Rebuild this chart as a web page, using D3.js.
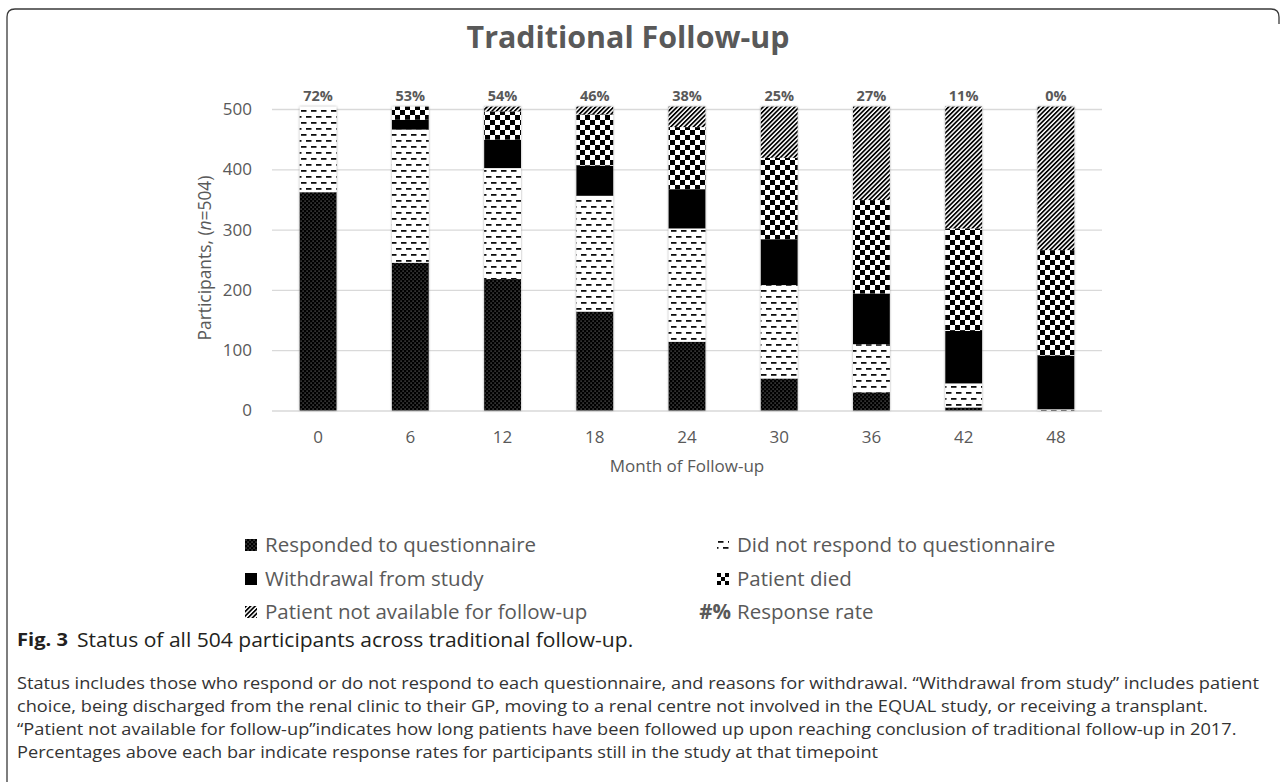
<!DOCTYPE html>
<html>
<head>
<meta charset="utf-8">
<script src="https://cdn.jsdelivr.net/npm/d3@7/dist/d3.min.js"></script>
<style>
  html, body { margin: 0; padding: 0; background: #ffffff; }
  svg { display: block; }
</style>
</head>
<body>
<svg id="chart" width="1284" height="782"></svg>
<script>
// ---------------- DATA ----------------
const months = ["0", "6", "12", "18", "24", "30", "36", "42", "48"];
const responded    = [362, 245, 218, 164, 114, 53, 30, 5, 0];
const notResponded = [142, 221, 184, 192, 188, 155, 80, 40, 2];
const withdrawal   = [0, 16, 47, 50, 65, 76, 84, 87, 89];
const died         = [0, 22, 47, 85, 103, 135, 155, 170, 175];
const notAvailable = [0, 0, 8, 13, 34, 85, 155, 202, 238];
const responseRates = ["72%", "53%", "54%", "46%", "38%", "25%", "27%", "11%", "0%"];
const yTicks = [0, 100, 200, 300, 400, 500];
const seriesKeys = ["responded", "notResponded", "withdrawal", "died", "notAvailable"];
const seriesLabels = ["Responded to questionnaire", "Did not respond to questionnaire",
  "Withdrawal from study", "Patient died", "Patient not available for follow-up"];
const chartTitle = "Traditional Follow-up";
const xTitle = "Month of Follow-up";
const captionHead = "Status of all 504 participants across traditional follow-up.";
const captionLines = [
  "Status includes those who respond or do not respond to each questionnaire, and reasons for withdrawal. \u201cWithdrawal from study\u201d includes patient",
  "choice, being discharged from the renal clinic to their GP, moving to a renal centre not involved in the EQUAL study, or receiving a transplant.",
  "\u201cPatient not available for follow-up\u201dindicates how long patients have been followed up upon reaching conclusion of traditional follow-up in 2017.",
  "Percentages above each bar indicate response rates for participants still in the study at that timepoint"
];

const table = months.map((m, i) => ({
  month: m,
  responded: responded[i],
  notResponded: notResponded[i],
  withdrawal: withdrawal[i],
  died: died[i],
  notAvailable: notAvailable[i],
  rate: responseRates[i]
}));

// ---------------- SETUP ----------------
const svg = d3.select("#chart");
const FONT = "'Open Sans', 'DejaVu Sans', sans-serif";
const GREY = "#595959";

function fit(sel, target) {
  const w = sel.node().getComputedTextLength();
  const fs = parseFloat(sel.attr("font-size"));
  if (w > 0) sel.attr("font-size", (fs * target / w).toFixed(2));
}

// patterns
const defs = svg.append("defs");
const pR = defs.append("pattern").attr("id", "pat-responded").attr("patternUnits", "userSpaceOnUse")
  .attr("width", 4).attr("height", 4);
pR.append("rect").attr("width", 4).attr("height", 4).attr("fill", "#000");
pR.append("rect").attr("x", 0.6).attr("y", 0.6).attr("width", 0.9).attr("height", 0.9).attr("fill", "#c4c4c4");
pR.append("rect").attr("x", 2.6).attr("y", 2.6).attr("width", 0.9).attr("height", 0.9).attr("fill", "#c4c4c4");

const pN = defs.append("pattern").attr("id", "pat-notresp").attr("patternUnits", "userSpaceOnUse")
  .attr("width", 10).attr("height", 12);
pN.append("rect").attr("width", 10).attr("height", 12).attr("fill", "#fff");
pN.append("rect").attr("x", 1).attr("y", 2).attr("width", 5.5).attr("height", 1.8).attr("fill", "#111");
pN.append("rect").attr("x", 6).attr("y", 8).attr("width", 5.5).attr("height", 1.8).attr("fill", "#111");
pN.append("rect").attr("x", -4).attr("y", 8).attr("width", 5.5).attr("height", 1.8).attr("fill", "#111");

function checker(id, cell) {
  const p = defs.append("pattern").attr("id", id).attr("patternUnits", "userSpaceOnUse")
    .attr("width", cell * 2).attr("height", cell * 2);
  p.append("rect").attr("width", cell * 2).attr("height", cell * 2).attr("fill", "#fff");
  p.append("rect").attr("x", 0).attr("y", 0).attr("width", cell).attr("height", cell).attr("fill", "#000");
  p.append("rect").attr("x", cell).attr("y", cell).attr("width", cell).attr("height", cell).attr("fill", "#000");
}
checker("pat-died", 5);
checker("pat-died-lg", 4);

const pA = defs.append("pattern").attr("id", "pat-na").attr("patternUnits", "userSpaceOnUse")
  .attr("width", 3.2).attr("height", 10).attr("patternTransform", "rotate(45)");
pA.append("rect").attr("width", 3.2).attr("height", 10).attr("fill", "#fff");
pA.append("rect").attr("width", 1.7).attr("height", 10).attr("fill", "#000");

const fills = {
  responded: "url(#pat-responded)",
  notResponded: "url(#pat-notresp)",
  withdrawal: "#000",
  died: "url(#pat-died)",
  notAvailable: "url(#pat-na)"
};
const legendFills = Object.assign({}, fills, { died: "url(#pat-died-lg)" });

const shadow = defs.append("filter").attr("id", "shadow").attr("x", "-20%").attr("y", "-5%")
  .attr("width", "140%").attr("height", "110%");
shadow.append("feDropShadow").attr("dx", 0).attr("dy", 0).attr("stdDeviation", 1.2)
  .attr("flood-color", "#7f7f7f").attr("flood-opacity", 0.7);

// ---------------- FRAME ----------------
svg.append("path")
  .attr("d", "M7,782 V17 Q7,9 15,9 H1271 Q1279,9 1279,17 V24")
  .attr("fill", "none").attr("stroke", "#3a3a3a").attr("stroke-width", 1.3);

// ---------------- SCALES ----------------
const x = d3.scaleBand().domain(months).range([272, 1102]).paddingInner(0.6).paddingOuter(0.3);
const y = d3.scaleLinear().domain([0, 500]).range([410.5, 109]);

const yAxis = svg.append("g").attr("transform", "translate(272,0)")
  .call(d3.axisLeft(y).tickValues(yTicks).tickSize(-830).tickPadding(20));
yAxis.select(".domain").remove();
yAxis.selectAll(".tick line").attr("stroke", "#d9d9d9").attr("stroke-width", 1.3);
yAxis.selectAll(".tick text").attr("fill", GREY).attr("font-family", FONT).attr("font-size", 17);

const xAxis = svg.append("g").attr("transform", "translate(0,410.5)")
  .call(d3.axisBottom(x).tickSize(0).tickPadding(0));
xAxis.select(".domain").remove();
xAxis.selectAll(".tick text").attr("fill", GREY).attr("font-family", FONT).attr("font-size", 17)
  .attr("y", 27).attr("dy", "0.35em");

// ---------------- BARS ----------------
const stack = d3.stack().keys(seriesKeys)(table);
const bars = svg.append("g").selectAll("g.bar").data(table).join("g")
  .attr("class", "bar").attr("filter", "url(#shadow)");
bars.each(function (d, i) {
  const g = d3.select(this);
  stack.forEach(s => {
    const seg = s[i];
    if (seg[1] - seg[0] <= 0) return;
    g.append("rect")
      .attr("x", x(d.month))
      .attr("width", x.bandwidth())
      .attr("y", y(seg[1]))
      .attr("height", y(seg[0]) - y(seg[1]))
      .attr("fill", fills[s.key]);
  });
});

svg.append("g").selectAll("text").data(table).join("text")
  .attr("x", d => x(d.month) + x.bandwidth() / 2)
  .attr("y", 96).attr("dy", "0.35em")
  .attr("text-anchor", "middle")
  .attr("font-family", FONT).attr("font-weight", 700).attr("font-size", 14.5)
  .attr("fill", GREY)
  .text(d => d.rate);

// ---------------- TITLES ----------------
const title = svg.append("text").attr("x", 628).attr("y", 37).attr("dy", "0.35em")
  .attr("text-anchor", "middle").attr("font-family", FONT).attr("font-weight", 700)
  .attr("font-size", 28).attr("fill", GREY).text(chartTitle);
fit(title, 323);

const yt = svg.append("text")
  .attr("transform", "translate(205,258) rotate(-90)")
  .attr("dy", "0.35em").attr("text-anchor", "middle")
  .attr("font-family", FONT).attr("font-size", 17).attr("fill", GREY);
yt.append("tspan").text("Participants, (");
yt.append("tspan").attr("font-style", "italic").text("n");
yt.append("tspan").text("=504)");
fit(yt, 165);

svg.append("text").attr("x", 687).attr("y", 466).attr("dy", "0.35em")
  .attr("text-anchor", "middle").attr("font-family", FONT).attr("font-size", 17)
  .attr("fill", GREY).text(xTitle);

// ---------------- LEGEND ----------------
const legendItems = [
  { key: "responded", col: 0, row: 0 },
  { key: "notResponded", col: 1, row: 0 },
  { key: "withdrawal", col: 0, row: 1 },
  { key: "died", col: 1, row: 1 },
  { key: "notAvailable", col: 0, row: 2 }
];
const legendRowY = [545, 579, 612];
const legendTextX = [265, 737];
const LFS = 20.5;
const legend = svg.append("g");
legendItems.forEach(it => {
  const cy = legendRowY[it.row];
  const tx = legendTextX[it.col];
  legend.append("g").attr("transform", `translate(${tx - 20},${cy - 6})`)
    .append("rect").attr("width", 12).attr("height", 12)
    .attr("fill", legendFills[it.key]);
  legend.append("text").attr("x", tx).attr("y", cy).attr("dy", "0.35em")
    .attr("font-family", FONT).attr("font-size", LFS).attr("fill", GREY)
    .text(seriesLabels[seriesKeys.indexOf(it.key)]);
});
legend.append("text").attr("x", 731).attr("y", legendRowY[2]).attr("dy", "0.35em")
  .attr("text-anchor", "end").attr("font-family", FONT).attr("font-weight", 700)
  .attr("font-size", LFS).attr("fill", GREY).text("#%");
legend.append("text").attr("x", legendTextX[1]).attr("y", legendRowY[2]).attr("dy", "0.35em")
  .attr("font-family", FONT).attr("font-size", LFS).attr("fill", GREY).text("Response rate");

// ---------------- CAPTION ----------------
// caption font is condensed in the reference: draw with a uniform horizontal squeeze
const CFS = 16.5;
const capLineY = [683, 706, 729, 752];
const probe = svg.append("text").attr("font-family", FONT).attr("font-size", CFS).text(captionLines[0]);
const sx = 1243 / probe.node().getComputedTextLength();
probe.remove();

function capText(xp, yp, txt, opts) {
  const g = svg.append("g").attr("transform", `translate(${xp},${yp}) scale(${sx},1)`);
  return g.append("text").attr("x", 0).attr("y", 0).attr("dy", "0.35em")
    .attr("font-family", FONT).attr("font-size", opts.size)
    .attr("font-weight", opts.weight || 400).attr("fill", opts.color).text(txt);
}
const figLabel = capText(17, 640, "Fig. 3", { size: 18, weight: 700, color: "#231f20" });
fit(figLabel, 51 / sx);
const head = capText(77, 640, captionHead, { size: 18, color: "#231f20" });
fit(head, 556 / sx);
captionLines.forEach((t, i) => capText(17, capLineY[i], t, { size: CFS, color: "#333" }));
</script>
</body>
</html>
